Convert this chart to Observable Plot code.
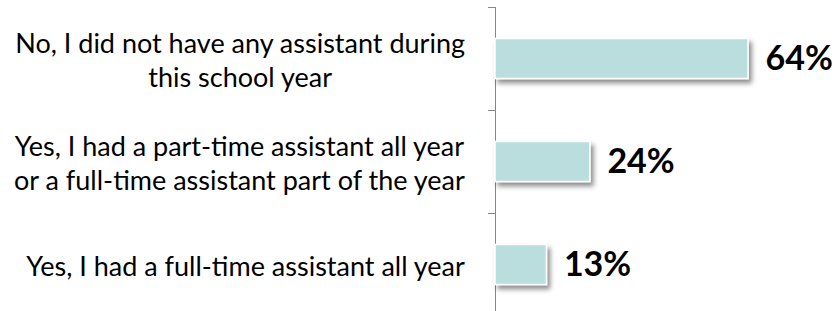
<!DOCTYPE html>
<html><head><meta charset="utf-8">
<script src="https://cdn.jsdelivr.net/npm/d3@7"></script>
<script src="https://cdn.jsdelivr.net/npm/@observablehq/plot@0.6"></script>
<style>body{margin:0;background:#fff}</style>
</head><body><div id="chart"></div>
<script>
const categories = [
  "No, I did not have any assistant during\nthis school year",
  "Yes, I had a part-time assistant all year\nor a full-time assistant part of the year",
  "Yes, I had a full-time assistant all year"
];
const values = [64, 24, 13];
const valueLabels = ["64%", "24%", "13%"];
const boundaries = [0, 1, 2, 3];

const data = categories.map((c, i) => ({category: c, value: values[i], label: valueLabels[i], index: i}));

const chart = Plot.plot({
  width: 837, height: 311,
  marginLeft: 495, marginRight: 89, marginTop: 7, marginBottom: 0,
  x: {domain: [0, 64], axis: null},
  y: {domain: [0, 3], range: [7, 316], axis: "left", ticks: boundaries, tickSize: 7, tickFormat: () => "", line: true, label: null},
  style: {fontFamily: "Lato, 'Open Sans', sans-serif", background: "#fff", color: "#878787"},
  marks: [
    Plot.rectX(data, {x1: 0, x2: "value", y1: "index", y2: d => d.index + 1, insetTop: 31.5, insetBottom: 31.5, fill: "#badede", stroke: "#fff", strokeWidth: 1.5}),
    Plot.text(data, {y: d => d.index + 0.5, text: "category", frameAnchor: "left", dx: -255, textAnchor: "middle", fontSize: 27, lineHeight: 1.28, fill: "#000"}),
    Plot.text(data, {x: "value", y: d => d.index + 0.5, text: "label", textAnchor: "start", dx: 17, fontSize: 34, fontWeight: "bold", fill: "#000"})
  ]
});
document.getElementById("chart").appendChild(chart);

const svg = d3.select(chart);
// thicker axis line and ticks
svg.selectAll("g[aria-label='y-axis'] path, g[aria-label='y-axis'] line").attr("stroke-width", 1.5);

// drop shadow on bars
const defs = svg.insert("defs", ":first-child");
const f = defs.append("filter").attr("id", "shadow").attr("x", "-10%").attr("y", "-20%").attr("width", "130%").attr("height", "160%");
f.append("feDropShadow").attr("dx", 3).attr("dy", 4).attr("stdDeviation", 2.5).attr("flood-color", "#000").attr("flood-opacity", 0.45);
svg.selectAll("rect").filter(function() { return this.getAttribute("fill") === "#badede" || (this.parentNode && this.parentNode.getAttribute("fill") === "#badede"); }).attr("filter", "url(#shadow)");

// right-align each category block at x≈465 while keeping lines centred
const svgLeft = chart.getBoundingClientRect().left;
svg.selectAll("text").filter(function() { return this.getAttribute("font-size") === "27" || (this.parentNode && this.parentNode.getAttribute("font-size") === "27"); }).each(function() {
  const r = this.getBoundingClientRect();
  const shift = 465 - (r.right - svgLeft);
  const t = this.getAttribute("transform") || "";
  this.setAttribute("transform", t + ` translate(${shift},0)`);
});
</script>
</body></html>
